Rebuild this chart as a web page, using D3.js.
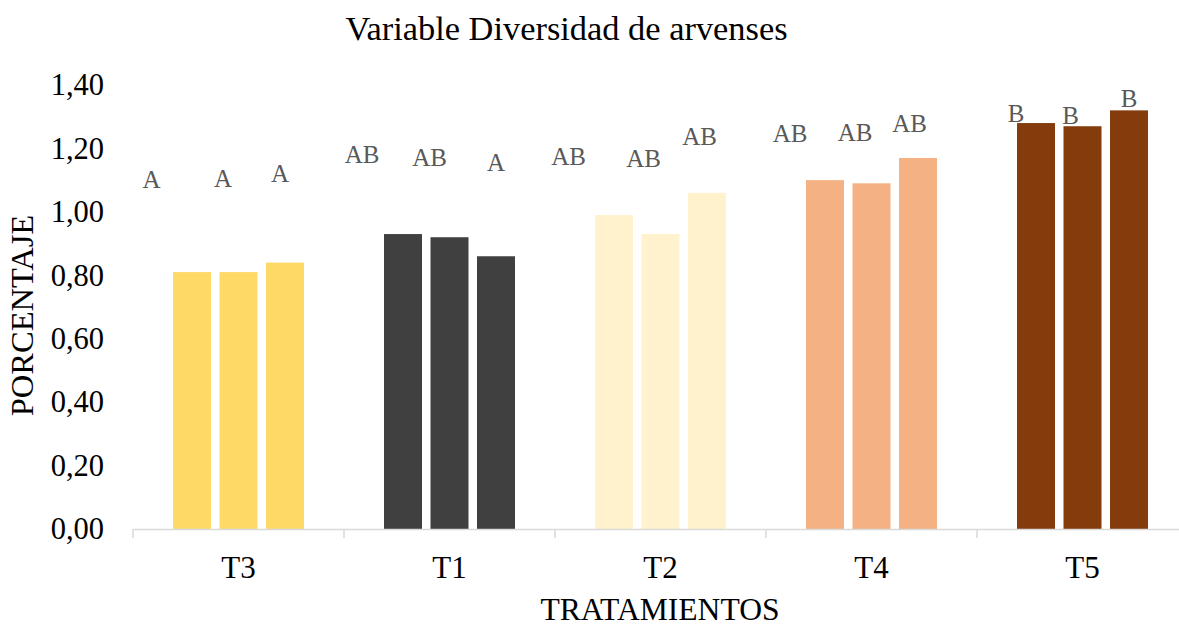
<!DOCTYPE html>
<html>
<head>
<meta charset="utf-8">
<script src="https://cdn.jsdelivr.net/npm/d3@7"></script>
<style>
  html, body { margin: 0; padding: 0; background: #fff; }
  svg { display: block; font-family: "Liberation Serif", "Times New Roman", serif; }
</style>
</head>
<body>
<svg id="chart" width="1179" height="624"></svg>
<script>
// ---- data ----
const categories = ["T3", "T1", "T2", "T4", "T5"];
const barValues = [
  [0.81, 0.81, 0.84],
  [0.93, 0.92, 0.86],
  [0.99, 0.93, 1.06],
  [1.10, 1.09, 1.17],
  [1.28, 1.27, 1.32]
];
const letters = [
  ["A", "A", "A"],
  ["AB", "AB", "A"],
  ["AB", "AB", "AB"],
  ["AB", "AB", "AB"],
  ["B", "B", "B"]
];
const categoryColors = ["#FFD966", "#404040", "#FFF2CC", "#F4B183", "#843C0C"];
const yTicks = [0, 0.2, 0.4, 0.6, 0.8, 1.0, 1.2, 1.4];
const titleText = "Variable Diversidad de arvenses";
const xTitle = "TRATAMIENTOS";
const yTitle = "PORCENTAJE";

// ---- layout for manually placed letters (baseline as axis value, horizontal offset px) ----
const letterBaseline = [
  [1.075, 1.078, 1.094],
  [1.154, 1.145, 1.129],
  [1.148, 1.141, 1.211],
  [1.220, 1.223, 1.252],
  [1.283, 1.277, 1.331]
];
const letterDx = [
  [-40.5, -15.5, -5],
  [-41, -20, 0],
  [-45.5, -17, -7.5],
  [-35, -16.5, -8.5],
  [-20, -12, 0]
];

// ---- drawing ----
const svg = d3.select("#chart");
const x0 = d3.scaleBand().domain(categories).range([133, 1188]).paddingInner(0).paddingOuter(0);
const x1 = d3.scaleBand().domain([0, 1, 2]).range([40, 171]).paddingInner(0.183).paddingOuter(0);
const y = d3.scaleLinear().domain([0, 1.4]).range([529, 85]);
const fmt = v => d3.format(".2f")(v).replace(".", ",");

// title
svg.append("text")
  .attr("x", 566.5).attr("y", 40)
  .attr("text-anchor", "middle")
  .attr("font-size", 34.4)
  .attr("fill", "#000")
  .text(titleText);

// y tick labels (no axis line)
const yAxis = svg.append("g").attr("transform", "translate(133,0)")
  .call(d3.axisLeft(y).tickValues(yTicks).tickFormat(fmt).tickSize(0).tickPadding(29));
yAxis.select(".domain").remove();
yAxis.selectAll("text").attr("font-size", 30.5).attr("fill", "#000")
  .attr("font-family", "Liberation Serif, Times New Roman, serif");

// bars
const groups = svg.append("g").selectAll("g")
  .data(categories).join("g")
  .attr("transform", d => `translate(${x0(d)},0)`);

groups.each(function(cat, ci) {
  const g = d3.select(this);
  g.selectAll("rect").data(barValues[ci]).join("rect")
    .attr("x", (d, i) => x1(i))
    .attr("y", d => y(d))
    .attr("width", x1.bandwidth())
    .attr("height", d => y(0) - y(d))
    .attr("fill", categoryColors[ci]);
  g.selectAll("text.lbl").data(letters[ci]).join("text")
    .attr("class", "lbl")
    .attr("x", (d, i) => x1(i) + x1.bandwidth() / 2 + letterDx[ci][i])
    .attr("y", (d, i) => y(letterBaseline[ci][i]))
    .attr("text-anchor", "middle")
    .attr("font-size", 25)
    .attr("fill", "#595959")
    .text(d => d);
});

// x axis
const xAxis = svg.append("g").attr("transform", `translate(0,${y(0)})`)
  .call(d3.axisBottom(x0).tickSize(0).tickPadding(27));
xAxis.select(".domain").attr("stroke", "#D9D9D9").attr("stroke-width", 1.5);
xAxis.selectAll("text").attr("font-size", 31).attr("fill", "#000")
  .attr("font-family", "Liberation Serif, Times New Roman, serif");
// boundary tick marks between categories
const boundaries = categories.map(c => x0(c)).concat([x0.range()[1]]);
svg.append("g").selectAll("line").data(boundaries).join("line")
  .attr("x1", d => d).attr("x2", d => d)
  .attr("y1", y(0)).attr("y2", y(0) + 9)
  .attr("stroke", "#D9D9D9").attr("stroke-width", 1.5);

// axis titles
svg.append("text")
  .attr("x", 660).attr("y", 620)
  .attr("text-anchor", "middle")
  .attr("font-size", 31.6)
  .attr("fill", "#000")
  .text(xTitle);

svg.append("text")
  .attr("transform", "translate(33,315.5) rotate(-90)")
  .attr("text-anchor", "middle")
  .attr("font-size", 32.5)
  .attr("fill", "#000")
  .text(yTitle);
</script>
</body>
</html>
